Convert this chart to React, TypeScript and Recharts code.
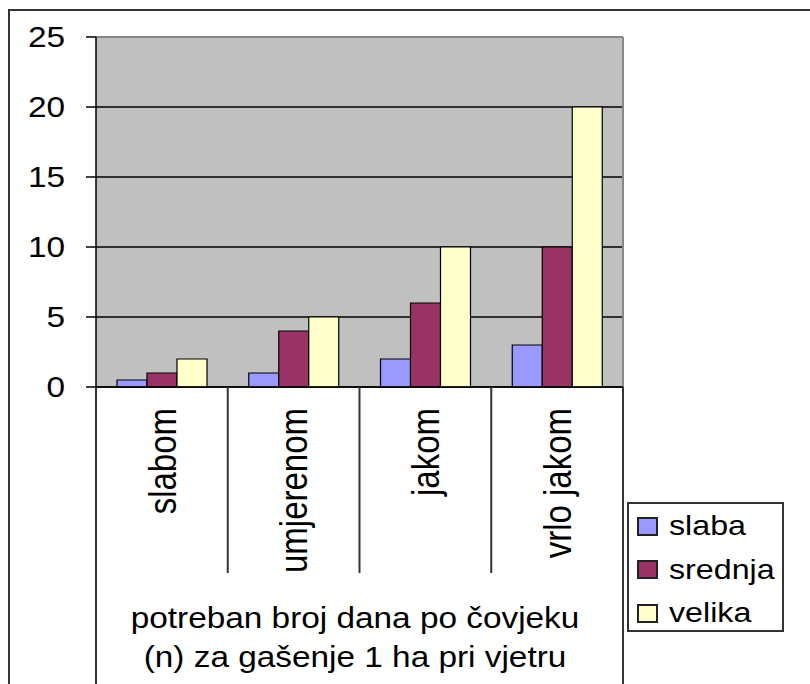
import { BarChart, Bar, XAxis, YAxis, CartesianGrid, Legend, ReferenceLine } from 'recharts';

const categories = ['slabom', 'umjerenom', 'jakom', 'vrlo jakom'];
const slaba = [0.5, 1, 2, 3];
const srednja = [1, 4, 6, 10];
const velika = [2, 5, 10, 20];
const yTicks = [0, 5, 10, 15, 20, 25];
const titleLines = ['potreban broj dana po čovjeku', '(n) za gašenje 1 ha pri vjetru'];

const series = [
  { key: 'slaba', color: '#9999FF' },
  { key: 'srednja', color: '#993366' },
  { key: 'velika', color: '#FFFFCC' },
];

const data = categories.map((category, i) => ({
  category,
  slaba: slaba[i],
  srednja: srednja[i],
  velika: velika[i],
}));

// layout (page pixels)
const W = 810;
const H = 684;
const PLOT_LEFT = 96;
const PLOT_TOP = 37;
const PLOT_RIGHT = 623;
const PLOT_BOTTOM = 387;
const FONT = '"Liberation Sans", Arial, sans-serif';
const STRETCH = 1.15;

function ValueTick({ x, y, payload }: any) {
  return (
    <g transform={`translate(${x},${y}) scale(${STRETCH},1)`}>
      <text textAnchor="end" dy="0.36em" fontSize={29} fill="#000" fontFamily={FONT}>
        {payload.value}
      </text>
    </g>
  );
}

function CategoryTick({ x, payload, index }: any) {
  const band = (PLOT_RIGHT - PLOT_LEFT) / categories.length;
  const left = x - band / 2;
  const right = x + band / 2;
  const last = index === categories.length - 1;
  return (
    <g>
      <line x1={left} x2={left} y1={PLOT_BOTTOM} y2={index === 0 ? H : 573} stroke="#333" strokeWidth={2} />
      {last && <line x1={right} x2={right} y1={PLOT_BOTTOM} y2={H} stroke="#333" strokeWidth={2} />}
      <g transform={`translate(${x},408) scale(${STRETCH},1) rotate(-90)`}>
        <text textAnchor="end" dy="0.36em" fontSize={33} fill="#000" fontFamily={FONT}>
          {payload.value}
        </text>
      </g>
    </g>
  );
}

function AxisTitle() {
  return (
    <g>
      {titleLines.map((line, i) => (
        <g key={line} transform={`translate(355,${628 + i * 39}) scale(${STRETCH},1)`}>
          <text textAnchor="middle" fontSize={29} fill="#000" fontFamily={FONT}>
            {line}
          </text>
        </g>
      ))}
    </g>
  );
}

function LegendBox({ payload }: any) {
  return (
    <div
      style={{
        position: 'relative',
        width: 157,
        height: 130,
        boxSizing: 'border-box',
        border: '2px solid #333',
        background: '#fff',
        fontFamily: FONT,
      }}
    >
      {(payload || []).map((item: any, i: number) => (
        <div
          key={item.value}
          style={{
            position: 'absolute',
            left: 8,
            top: 22 + i * 43.5 - 21.5,
            height: 43,
            display: 'flex',
            alignItems: 'center',
          }}
        >
          <span
            style={{
              display: 'inline-block',
              width: 21,
              height: 19,
              boxSizing: 'border-box',
              border: '2px solid #222',
              background: item.color,
            }}
          />
          <span
            style={{
              display: 'inline-block',
              marginLeft: 11,
              fontSize: 28,
              lineHeight: 1,
              color: '#000',
              transform: `scaleX(${STRETCH})`,
              transformOrigin: 'left center',
            }}
          >
            {item.value}
          </span>
        </div>
      ))}
    </div>
  );
}

export default function App() {
  return (
    <div style={{ position: 'fixed', left: 0, top: 0, width: W, height: H, background: '#fff', overflow: 'hidden' }}>
      <div
        style={{
          position: 'absolute',
          left: 8,
          top: 9,
          width: W,
          height: H,
          borderTop: '2px solid #333',
          borderLeft: '2px solid #333',
        }}
      />
      <div style={{ position: 'absolute', left: 0, top: 0 }}>
        <BarChart
          width={W}
          height={H}
          data={data}
          margin={{ top: PLOT_TOP, right: W - PLOT_RIGHT, left: 0, bottom: 0 }}
          barGap={0}
          barSize={30}
        >
          <CartesianGrid fill="#C0C0C0" fillOpacity={1} stroke="#000" strokeWidth={1.5} vertical={false} />
          <XAxis
            dataKey="category"
            height={H - PLOT_BOTTOM}
            interval={0}
            axisLine={{ stroke: '#000', strokeWidth: 1.5 }}
            tickLine={false}
            tick={<CategoryTick />}
            label={{ content: () => <AxisTitle /> }}
          />
          <YAxis
            width={PLOT_LEFT}
            domain={[0, 25]}
            ticks={yTicks}
            interval={0}
            axisLine={{ stroke: '#000', strokeWidth: 1.5 }}
            tickLine={{ stroke: '#000', strokeWidth: 1.5 }}
            tickSize={10}
            tickMargin={21}
            tick={<ValueTick />}
          />
          <ReferenceLine y={25} stroke="#888" strokeWidth={2} />
          <ReferenceLine x="vrlo jakom" position="end" stroke="#888" strokeWidth={2} />
          {series.map((s) => (
            <Bar
              key={s.key}
              dataKey={s.key}
              name={s.key}
              fill={s.color}
              stroke="#000"
              strokeWidth={1.2}
              isAnimationActive={false}
            />
          ))}
          <Legend
            layout="vertical"
            align="center"
            verticalAlign="middle"
            content={<LegendBox />}
            wrapperStyle={{ position: 'absolute', left: 627, top: 502, width: 157, height: 130 }}
          />
        </BarChart>
      </div>
    </div>
  );
}
